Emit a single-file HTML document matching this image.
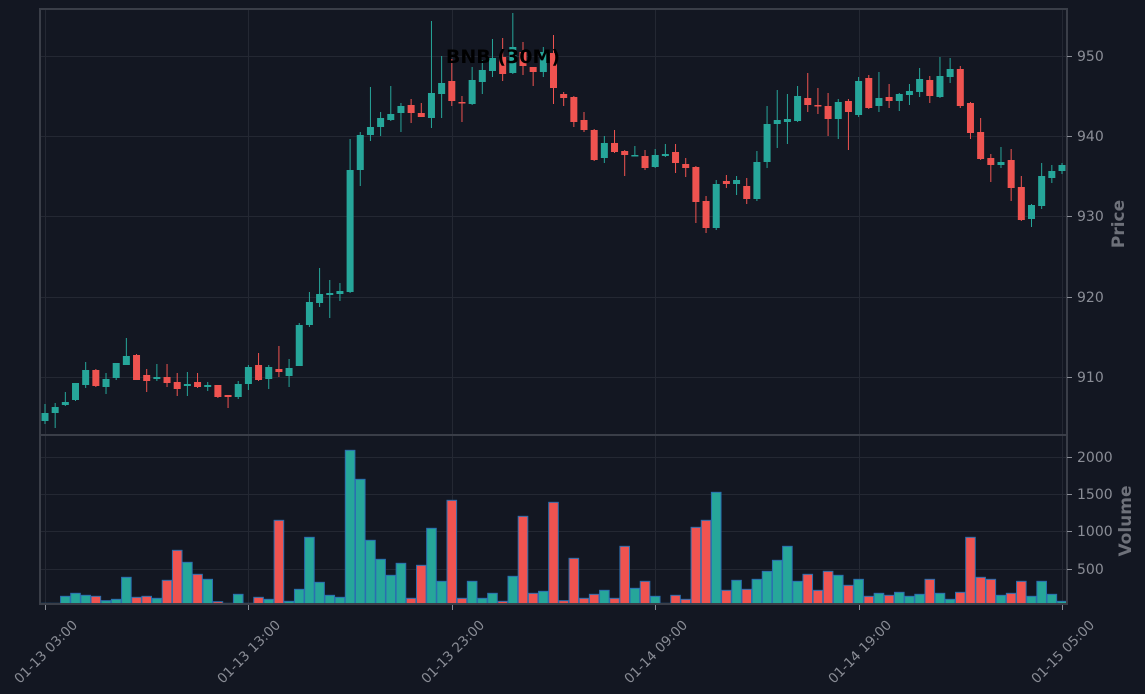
<!DOCTYPE html>
<html><head><meta charset="utf-8"><style>
html,body{margin:0;padding:0;background:#131722;}
svg{display:block;}
text{font-family:"DejaVu Sans","Liberation Sans",sans-serif;}
</style></head><body>
<svg id="s" width="1145" height="694" xmlns="http://www.w3.org/2000/svg">
<rect width="1145" height="694" fill="#131722"/>
<g stroke="#242833" stroke-width="1">
<line x1="40" x2="1067" y1="56.5" y2="56.5"/><line x1="40" x2="1067" y1="136.5" y2="136.5"/><line x1="40" x2="1067" y1="216.5" y2="216.5"/><line x1="40" x2="1067" y1="297.5" y2="297.5"/><line x1="40" x2="1067" y1="377.5" y2="377.5"/>
<line x1="40" x2="1067" y1="457.5" y2="457.5"/><line x1="40" x2="1067" y1="494.5" y2="494.5"/><line x1="40" x2="1067" y1="531.5" y2="531.5"/><line x1="40" x2="1067" y1="569.5" y2="569.5"/>
<line x1="45.5" x2="45.5" y1="9" y2="604"/><line x1="248.5" x2="248.5" y1="9" y2="604"/><line x1="452.5" x2="452.5" y1="9" y2="604"/><line x1="655.5" x2="655.5" y1="9" y2="604"/><line x1="859.5" x2="859.5" y1="9" y2="604"/><line x1="1062.5" x2="1062.5" y1="9" y2="604"/>
</g>
<g id="c"></g>
<g id="v"></g>
<rect x="40" y="9" width="1027" height="426" fill="none" stroke="#3a3e48" stroke-width="2"/>
<rect x="40" y="435" width="1027" height="169" fill="none" stroke="#3a3e48" stroke-width="2"/>
<g stroke="#8a8d96" stroke-width="1">
<line x1="1067" x2="1072" y1="56.5" y2="56.5"/><line x1="1067" x2="1072" y1="136.5" y2="136.5"/><line x1="1067" x2="1072" y1="216.5" y2="216.5"/><line x1="1067" x2="1072" y1="297.5" y2="297.5"/><line x1="1067" x2="1072" y1="377.5" y2="377.5"/>
<line x1="1067" x2="1072" y1="457.5" y2="457.5"/><line x1="1067" x2="1072" y1="494.5" y2="494.5"/><line x1="1067" x2="1072" y1="531.5" y2="531.5"/><line x1="1067" x2="1072" y1="569.5" y2="569.5"/>
<line x1="45.5" x2="45.5" y1="605" y2="610"/><line x1="248.5" x2="248.5" y1="605" y2="610"/><line x1="452.5" x2="452.5" y1="605" y2="610"/><line x1="655.5" x2="655.5" y1="605" y2="610"/><line x1="859.5" x2="859.5" y1="605" y2="610"/><line x1="1062.5" x2="1062.5" y1="605" y2="610"/>
</g>
<g fill="#8a8d96" font-size="14">
<text x="1077" y="61">950</text><text x="1077" y="141">940</text><text x="1077" y="221">930</text><text x="1077" y="302">920</text><text x="1077" y="382">910</text>
<text x="1077" y="462">2000</text><text x="1077" y="499">1500</text><text x="1077" y="536">1000</text><text x="1077" y="574">500</text>
</g>
<g fill="#8a8d96" font-size="13.5">
<text transform="translate(49,655) rotate(-45)" text-anchor="middle">01-13 03:00</text>
<text transform="translate(252,655) rotate(-45)" text-anchor="middle">01-13 13:00</text>
<text transform="translate(456,655) rotate(-45)" text-anchor="middle">01-13 23:00</text>
<text transform="translate(659,655) rotate(-45)" text-anchor="middle">01-14 09:00</text>
<text transform="translate(863,655) rotate(-45)" text-anchor="middle">01-14 19:00</text>
<text transform="translate(1066,655) rotate(-45)" text-anchor="middle">01-15 05:00</text>
</g>
<g fill="#6e717a" font-size="17" font-weight="bold">
<text transform="translate(1124,224) rotate(-90)" text-anchor="middle">Price</text>
<text transform="translate(1131,521) rotate(-90)" text-anchor="middle">Volume</text>
</g>
<text x="503" y="63" text-anchor="middle" font-size="19" font-weight="bold" fill="#000">BNB (30M)</text>
</svg>
<script>
var C=[
['g',413,421,404,424],['g',407,413,403,428],['g',402,405,392,406],['g',383,400,383,401],['g',370,385,362,388],['r',370,386,369,387],['g',379,387,373,394],['g',363,378,363,380],['g',356,365,338,365],['r',355,380,354,380],
['r',375,381,369,392],['g',377,379,364,381],['r',377,383,364,387],['r',382,389,373,396],['g',384,386,372,396],['r',382,387,373,388],['g',385,387,382,391],['r',385,397,385,398],['r',395,397,395,408],['g',384,397,381,399],
['g',367,384,365,390],['r',365,380,353,381],['g',367,379,365,389],['r',369,372,346,377],['g',368,376,359,387],['g',325,366,323,366],['g',302,325,292,327],['g',294,303,268,307],['g',293,295,280,318],['g',291,294,283,301],
['g',170,292,139,293],['g',135,170,132,186],['g',127,135,87,141],['g',118,127,112,136],['g',114,120,86,121],['g',106,113,103,132],['r',105,113,99,123],['r',113,117,103,117],['g',93,118,21,128],['g',83,94,56,118],
['r',81,101,59,106],['r',102,103,96,122],['g',80,104,67,105],['g',70,82,60,94],['g',58,71,39,77],['r',57,74,38,81],['g',47,73,13,74],['r',52,66,42,75],['r',67,72,67,86],['g',52,72,47,77],
['r',53,88,35,104],['r',94,98,92,106],['r',97,122,96,127],['r',120,130,112,132],['r',130,160,129,161],['g',143,158,136,163],['r',143,152,130,153],['r',151,155,150,176],['g',155,156,146,156],['r',156,168,150,170],
['g',155,167,149,168],['g',154,156,144,157],['r',152,163,144,173],['r',164,168,158,177],['r',167,202,166,223],['r',201,228,196,233],['g',184,228,180,230],['r',181,184,175,188],['g',180,184,176,195],['r',186,199,178,204],
['g',162,199,151,201],['g',124,162,106,168],['g',120,124,90,148],['g',119,122,94,144],['g',96,121,86,122],['r',98,105,73,112],['r',105,106,88,114],['r',106,119,93,136],['g',102,119,99,139],['r',101,112,99,150],
['g',81,115,77,117],['r',78,108,75,109],['g',98,106,72,112],['r',97,101,84,108],['g',94,101,93,111],['g',91,95,84,105],['g',79,92,68,97],['r',80,96,76,103],['g',76,97,57,98],['g',69,77,58,83],
['r',69,106,66,108],['r',103,133,102,139],['r',132,159,118,160],['r',158,165,154,182],['g',162,165,147,168],['r',160,188,149,201],['r',187,220,176,221],['g',205,219,204,227],['g',176,206,163,209],['g',171,178,165,183],
['g',165,171,163,174]];
var V=[
['g',490],['g',490],['g',469],['g',460],['g',466],['r',469],['g',482],['g',478],['g',412],['r',472],
['r',469],['g',475],['r',421],['r',331],['g',367],['r',403],['g',418],['r',485],['g',490],['g',463],
['g',490],['r',472],['g',478],['r',241],['g',484],['g',448],['g',292],['g',427],['g',466],['g',472],
['g',31],['g',118],['g',301],['g',358],['g',406],['g',370],['r',475],['r',376],['g',265],['g',424],
['r',181],['r',475],['g',424],['g',475],['g',460],['r',484],['g',409],['r',229],['r',460],['g',454],
['r',187],['r',482],['r',355],['r',475],['r',463],['g',451],['r',475],['r',319],['g',445],['r',424],
['g',469],['g',490],['r',466],['r',478],['r',262],['r',241],['g',157],['r',451],['g',421],['r',448],
['g',418],['g',394],['g',361],['g',319],['g',424],['r',403],['r',451],['r',394],['g',406],['r',436],
['g',418],['r',469],['g',460],['r',466],['g',457],['g',469],['g',463],['r',418],['g',460],['g',478],
['r',457],['r',292],['r',412],['r',418],['g',466],['r',460],['r',424],['g',469],['g',424],['g',463],['g',484]];
var col={g:'#26a69a',r:'#ef5350'};
var ns='http://www.w3.org/2000/svg';
function el(p,t,a){var e=document.createElementNS(ns,t);for(var k in a)e.setAttribute(k,a[k]);p.appendChild(e);}
var gc=document.getElementById('c'),gv=document.getElementById('v');
C.forEach(function(d,i){var x=45+i*10.17;var c=col[d[0]];
el(gc,'line',{x1:x,x2:x,y1:d[3],y2:d[4],stroke:c,'stroke-width':1});
var h=Math.max(1.5,d[2]-d[1]);el(gc,'rect',{x:x-3.5,y:d[1],width:7,height:h,fill:c});});
V.forEach(function(d,i){var x=45+i*10.17;var top=440+d[1]/3;var h=604-top;if(h<0.5)h=0.5;
el(gv,'rect',{x:x-4.8,y:top,width:9.6,height:h,fill:col[d[0]],stroke:'#2a6fb0','stroke-width':1});});
</script>
</body></html>
